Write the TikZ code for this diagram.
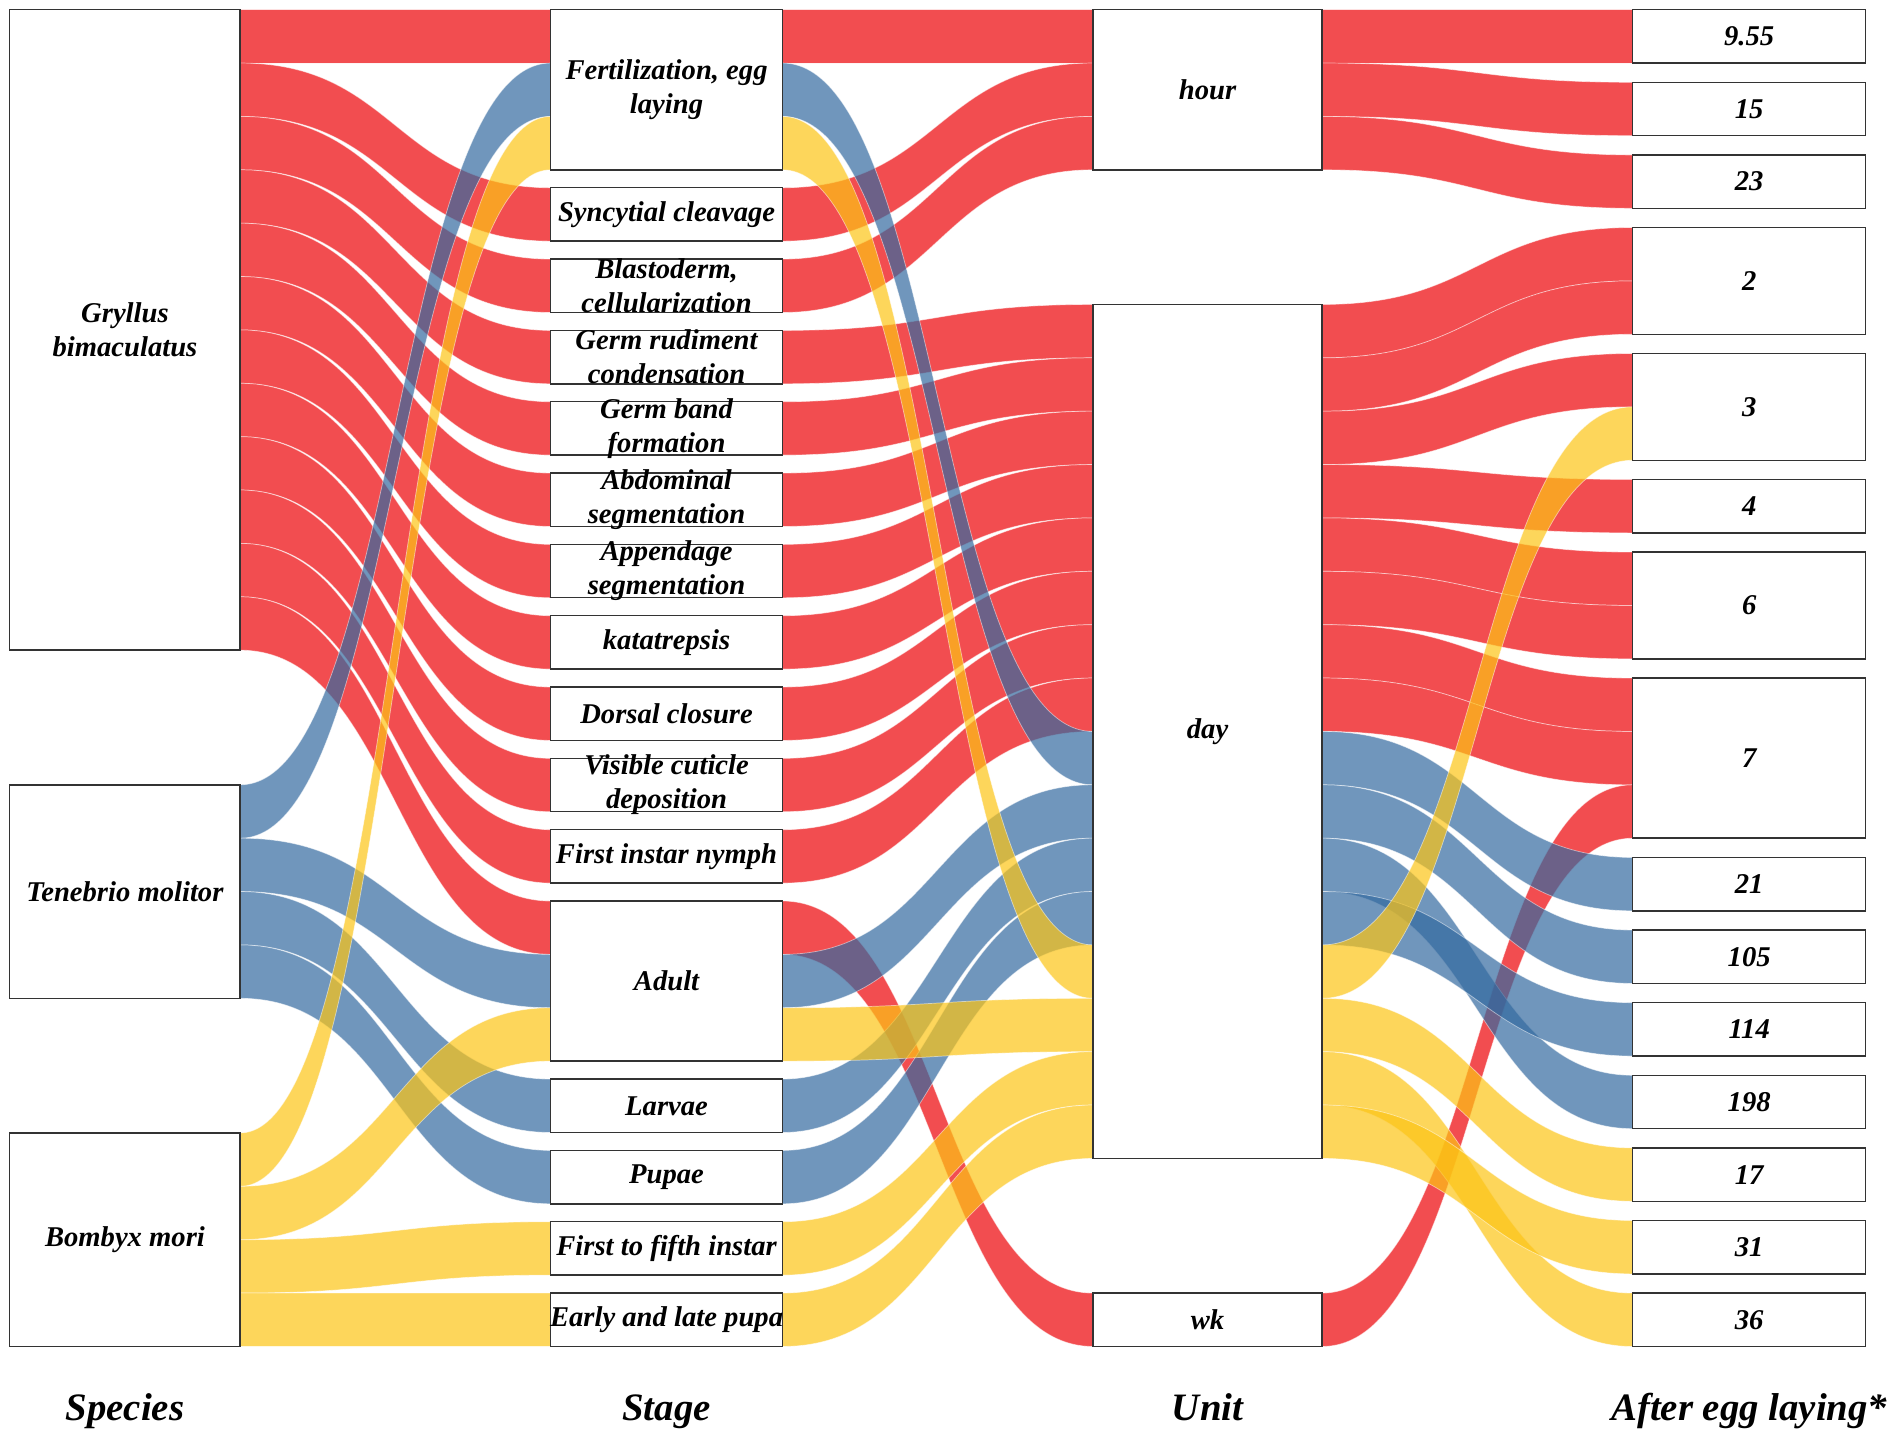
\documentclass[tikz,border=0pt]{standalone}
\usepackage{fontspec}
\setmainfont{Liberation Serif}
\usepackage{tikz}
\usetikzlibrary{positioning,calc}
\definecolor{flowred}{RGB}{236,2,6}
\definecolor{flowblue}{RGB}{51,105,159}
\definecolor{flowyellow}{RGB}{252,196,21}
\pgfdeclarelayer{flows}
\pgfsetlayers{flows,main}

% one band of the alluvial plot: colour, source node, source slot, target node, target slot
\newcommand{\flow}[5]{%
  \path[band=#1] let \p1=(#2.north east), \p2=(#4.north west),
    \n1={\y1-#3*22pt}, \n2={\y2-#5*22pt}, \n3={0.5*\x1+0.5*\x2} in
    (\x1,\n1) .. controls (\n3,\n1) and (\n3,\n2) .. (\x2,\n2)
    -- (\x2,\n2-22pt) .. controls (\n3,\n2-22pt) and (\n3,\n1-22pt) .. (\x1,\n1-22pt) -- cycle;}

\begin{document}
\begin{tikzpicture}[
    x=0.5pt, y=-0.5pt,
    box/.style={rectangle, draw=black!80, fill=white, line width=0.6pt, inner sep=0pt, outer sep=0pt, anchor=north west, minimum height=22pt},
    boxtext/.style={align=center, font=\fontsize{11.8}{14}\selectfont\bfseries\itshape},
    heading/.style={anchor=base, font=\fontsize{16}{19}\selectfont\bfseries\itshape},
    band/.style={fill=#1, fill opacity=0.7, draw=white, draw opacity=0.5, line width=0.3pt}
]
    \useasboundingbox (0,0) rectangle (1568,1186);

    % species
    \node[box, minimum width=95pt, minimum height=264pt, label={[boxtext]center:Gryllus\\bimaculatus}] (gryllus) at (8,8) {};
    \node[box, minimum width=95pt, minimum height=88pt, below=55.5pt of gryllus, label={[boxtext]center:Tenebrio molitor}] (tenebrio) {};
    \node[box, minimum width=95pt, minimum height=88pt, below=55.5pt of tenebrio, label={[boxtext]center:Bombyx mori}] (bombyx) {};

    % stage
    \begin{scope}[node distance=7.4pt, every node/.append style={minimum width=95.5pt}]
    \node[box, minimum height=66pt, label={[boxtext]center:Fertilization, egg\\laying}] (fert) at (454,8) {};
    \node[box, below=of fert, label={[boxtext]center:Syncytial cleavage}] (syncytial) {};
    \node[box, below=of syncytial, label={[boxtext]center:Blastoderm,\\cellularization}] (blasto) {};
    \node[box, below=of blasto, label={[boxtext]center:Germ rudiment\\condensation}] (rudiment) {};
    \node[box, below=of rudiment, label={[boxtext]center:Germ band\\formation}] (germband) {};
    \node[box, below=of germband, label={[boxtext]center:Abdominal\\segmentation}] (abdominal) {};
    \node[box, below=of abdominal, label={[boxtext]center:Appendage\\segmentation}] (appendage) {};
    \node[box, below=of appendage, label={[boxtext]center:katatrepsis}] (katatrepsis) {};
    \node[box, below=of katatrepsis, label={[boxtext]center:Dorsal closure}] (dorsal) {};
    \node[box, below=of dorsal, label={[boxtext]center:Visible cuticle\\deposition}] (cuticle) {};
    \node[box, below=of cuticle, label={[boxtext]center:First instar nymph}] (nymph) {};
    \node[box, below=of nymph, minimum height=66pt, label={[boxtext]center:Adult}] (adult) {};
    \node[box, below=of adult, label={[boxtext]center:Larvae}] (larvae) {};
    \node[box, below=of larvae, label={[boxtext]center:Pupae}] (pupae) {};
    \node[box, below=of pupae, label={[boxtext]center:First to fifth instar}] (instar) {};
    \node[box, below=of instar, label={[boxtext]center:Early and late pupa}] (pupa) {};
    \end{scope}

    % unit
    \node[box, minimum width=94.5pt, minimum height=66pt, label={[boxtext]center:hour}] (hour) at (901,8) {};
    \node[box, minimum width=94.5pt, minimum height=352pt, below=55.5pt of hour, label={[boxtext]center:day}] (day) {};
    \node[box, minimum width=94.5pt, below=55.5pt of day, label={[boxtext]center:wk}] (wk) {};

    % after egg laying
    \begin{scope}[node distance=7.93pt, every node/.append style={minimum width=96pt}]
    \node[box, label={[boxtext]center:9.55}] (a955) at (1346,8) {};
    \node[box, below=of a955, label={[boxtext]center:15}] (a15) {};
    \node[box, below=of a15, label={[boxtext]center:23}] (a23) {};
    \node[box, below=of a23, minimum height=44pt, label={[boxtext]center:2}] (a2) {};
    \node[box, below=of a2, minimum height=44pt, label={[boxtext]center:3}] (a3) {};
    \node[box, below=of a3, label={[boxtext]center:4}] (a4) {};
    \node[box, below=of a4, minimum height=44pt, label={[boxtext]center:6}] (a6) {};
    \node[box, below=of a6, minimum height=66pt, label={[boxtext]center:7}] (a7) {};
    \node[box, below=of a7, label={[boxtext]center:21}] (a21) {};
    \node[box, below=of a21, label={[boxtext]center:105}] (a105) {};
    \node[box, below=of a105, label={[boxtext]center:114}] (a114) {};
    \node[box, below=of a114, label={[boxtext]center:198}] (a198) {};
    \node[box, below=of a198, label={[boxtext]center:17}] (a17) {};
    \node[box, below=of a17, label={[boxtext]center:31}] (a31) {};
    \node[box, below=of a31, label={[boxtext]center:36}] (a36) {};
    \end{scope}

    % column titles
    \node[heading] (tspecies) at (103,1171) {Species};
    \node[heading] (tstage) at (549.5,1171) {Stage};
    \node[heading] (tunit) at (995.5,1171) {Unit};
    \node[heading] (tafter) at (1442,1171) {After egg laying*};

    \begin{pgfonlayer}{flows}
    % red: Gryllus
    \foreach \s [count=\i from 0] in {fert,syncytial,blasto,rudiment,germband,abdominal,appendage,katatrepsis,dorsal,cuticle,nymph,adult}
        {\flow{flowred}{gryllus}{\i}{\s}{0}}
    \foreach \s [count=\i from 0] in {fert,syncytial,blasto}
        {\flow{flowred}{\s}{0}{hour}{\i}}
    \foreach \s [count=\i from 0] in {rudiment,germband,abdominal,appendage,katatrepsis,dorsal,cuticle,nymph}
        {\flow{flowred}{\s}{0}{day}{\i}}
    \flow{flowred}{adult}{0}{wk}{0}
    \flow{flowred}{hour}{0}{a955}{0}
    \flow{flowred}{hour}{1}{a15}{0}
    \flow{flowred}{hour}{2}{a23}{0}
    \flow{flowred}{day}{0}{a2}{0}
    \flow{flowred}{day}{1}{a2}{1}
    \flow{flowred}{day}{2}{a3}{0}
    \flow{flowred}{day}{3}{a4}{0}
    \flow{flowred}{day}{4}{a6}{0}
    \flow{flowred}{day}{5}{a6}{1}
    \flow{flowred}{day}{6}{a7}{0}
    \flow{flowred}{day}{7}{a7}{1}
    \flow{flowred}{wk}{0}{a7}{2}

    % blue: Tenebrio
    \flow{flowblue}{tenebrio}{0}{fert}{1}
    \flow{flowblue}{tenebrio}{1}{adult}{1}
    \flow{flowblue}{tenebrio}{2}{larvae}{0}
    \flow{flowblue}{tenebrio}{3}{pupae}{0}
    \flow{flowblue}{fert}{1}{day}{8}
    \flow{flowblue}{adult}{1}{day}{9}
    \flow{flowblue}{larvae}{0}{day}{10}
    \flow{flowblue}{pupae}{0}{day}{11}
    \flow{flowblue}{day}{8}{a21}{0}
    \flow{flowblue}{day}{9}{a105}{0}
    \flow{flowblue}{day}{10}{a198}{0}
    \flow{flowblue}{day}{11}{a114}{0}

    % yellow: Bombyx
    \flow{flowyellow}{bombyx}{0}{fert}{2}
    \flow{flowyellow}{bombyx}{1}{adult}{2}
    \flow{flowyellow}{bombyx}{2}{instar}{0}
    \flow{flowyellow}{bombyx}{3}{pupa}{0}
    \flow{flowyellow}{fert}{2}{day}{12}
    \flow{flowyellow}{adult}{2}{day}{13}
    \flow{flowyellow}{instar}{0}{day}{14}
    \flow{flowyellow}{pupa}{0}{day}{15}
    \flow{flowyellow}{day}{12}{a3}{1}
    \flow{flowyellow}{day}{13}{a17}{0}
    \flow{flowyellow}{day}{14}{a36}{0}
    \flow{flowyellow}{day}{15}{a31}{0}
    \end{pgfonlayer}
\end{tikzpicture}
\end{document}
